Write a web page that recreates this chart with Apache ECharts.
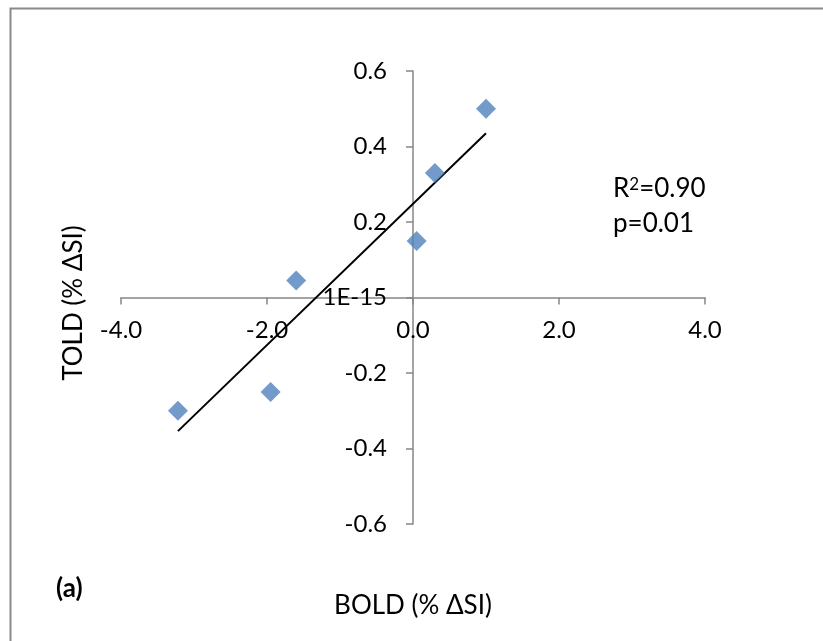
<!DOCTYPE html>
<html>
<head>
<meta charset="utf-8">
<script src="https://cdn.jsdelivr.net/npm/echarts@6/dist/echarts.min.js"></script>
<style>
  html, body { margin: 0; padding: 0; background: #fff; }
  #chart { width: 823px; height: 641px; }
</style>
</head>
<body>
<div id="chart"></div>
<script>
// BOLD vs TOLD signal change (% ΔSI)
const boldValues = [1.0, 0.3, 0.05, -1.6, -1.95, -3.22];
const toldValues = [0.50, 0.33, 0.15, 0.045, -0.25, -0.30];
const statR2 = '0.90';
const statP = '0.01';
const panelLabel = '(a)';
const xTitle = 'BOLD (% ΔSI)';
const yTitle = 'TOLD (% ΔSI)';

const points = boldValues.map((x, i) => [x, toldValues[i]]);

// least-squares linear trend across the data range
const n = boldValues.length;
const mx = boldValues.reduce((a, b) => a + b, 0) / n;
const my = toldValues.reduce((a, b) => a + b, 0) / n;
let sxy = 0, sxx = 0;
for (let i = 0; i < n; i++) {
  sxy += (boldValues[i] - mx) * (toldValues[i] - my);
  sxx += (boldValues[i] - mx) ** 2;
}
const slope = sxy / sxx;
const intercept = my - slope * mx;
const xLo = Math.min(...boldValues), xHi = Math.max(...boldValues);
const trend = [[xLo, intercept + slope * xLo], [xHi, intercept + slope * xHi]];

const FONT = 'Lato';
const axisGray = '#868686';
const W = 823, H = 641;
const G = { left: 121, right: 118, top: 71, bottom: 117 };
const X_MIN = -4, X_MAX = 4, Y_MIN = -0.6, Y_MAX = 0.6;
// shift the axes so they cross at the origin, carrying their labels along
const plotW = W - G.left - G.right, plotH = H - G.top - G.bottom;
const xAxisOffset = -plotH * (0 - Y_MIN) / (Y_MAX - Y_MIN);
const yAxisOffset = -plotW * (0 - X_MIN) / (X_MAX - X_MIN);

const chart = echarts.init(document.getElementById('chart'), null, { renderer: 'canvas' });
chart.setOption({
  animation: false,
  backgroundColor: '#fff',
  textStyle: { fontFamily: FONT },
  grid: Object.assign({ containLabel: false, outerBoundsMode: 'none' }, G),
  xAxis: {
    type: 'value', min: X_MIN, max: X_MAX, interval: 2,
    position: 'bottom', offset: xAxisOffset,
    axisLine: { show: true, onZero: false, lineStyle: { color: axisGray, width: 1.5 } },
    axisTick: { show: true, inside: false, length: 7, lineStyle: { color: axisGray, width: 1.5 } },
    axisLabel: { margin: 21, color: '#000', fontSize: 24, fontFamily: FONT,
      formatter: v => v.toFixed(1) },
    splitLine: { show: false }
  },
  yAxis: {
    type: 'value', min: Y_MIN, max: Y_MAX, interval: 0.2,
    position: 'left', offset: yAxisOffset,
    axisLine: { show: true, onZero: false, lineStyle: { color: axisGray, width: 1.5 } },
    axisTick: { show: true, inside: false, length: 7, lineStyle: { color: axisGray, width: 1.5 } },
    axisLabel: { margin: 26, color: '#000', fontSize: 24, fontFamily: FONT,
      formatter: v => Math.abs(v) < 1e-9 ? '1E-15' : v.toFixed(1) },
    splitLine: { show: false }
  },
  series: [
    {
      type: 'line', data: trend, symbol: 'none', silent: true,
      lineStyle: { color: '#000', width: 2 }, z: 2
    },
    {
      type: 'scatter', data: points, symbol: 'diamond', symbolSize: 20,
      itemStyle: { color: '#4F81BD' }, z: 3
    }
  ],
  graphic: [
    { type: 'rect', left: 8, top: 6, shape: { width: 900, height: 700 },
      style: { fill: 'none', stroke: '#8a8a8a', lineWidth: 2 }, z: 10 },
    { type: 'text', x: 74, y: 303, rotation: Math.PI / 2,
      style: { text: yTitle, font: '26px ' + FONT, fill: '#000', textAlign: 'center', textVerticalAlign: 'middle' } },
    { type: 'text', x: 413, y: 606,
      style: { text: xTitle, font: '26px ' + FONT, fill: '#000', textAlign: 'center', textVerticalAlign: 'middle' } },
    { type: 'text', x: 56, y: 589,
      style: { text: panelLabel, font: 'bold 26px ' + FONT, fill: '#000', textAlign: 'left', textVerticalAlign: 'middle' } },
    { type: 'text', x: 613, y: 189,
      style: {
        text: '{n|R}{s|2}{n|=' + statR2 + '}',
        rich: {
          n: { fontFamily: FONT, fontSize: 26, fill: '#000', verticalAlign: 'bottom' },
          s: { fontFamily: FONT, fontSize: 17, fill: '#000', verticalAlign: 'top', padding: [0, 0, 9, 0] }
        },
        textAlign: 'left', textVerticalAlign: 'middle'
      } },
    { type: 'text', x: 613, y: 224,
      style: { text: 'p=' + statP, font: '26px ' + FONT, fill: '#000', textAlign: 'left', textVerticalAlign: 'middle' } }
  ]
});
</script>
</body>
</html>
